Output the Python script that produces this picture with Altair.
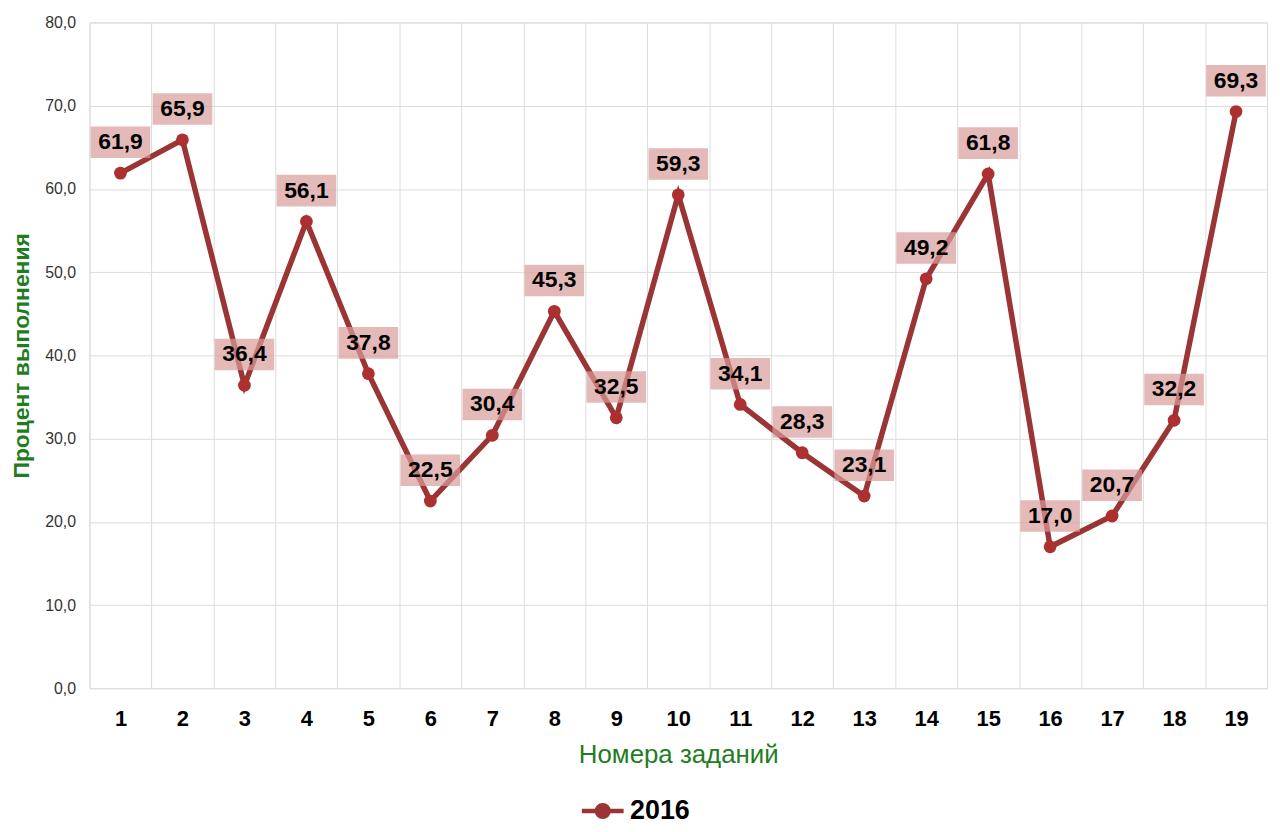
import altair as alt
import pandas as pd

tasks = list(range(1, 20))
values = [61.9, 65.9, 36.4, 56.1, 37.8, 22.5, 30.4, 45.3, 32.5, 59.3,
          34.1, 28.3, 23.1, 49.2, 61.8, 17.0, 20.7, 32.2, 69.3]
series = ["2016"] * len(tasks)

df = pd.DataFrame({"task": tasks, "value": values, "series": series})

LINE = "#9b3434"
POINT = "#ad2f2f"
GREEN = "#1f7d1f"
FONT = "Liberation Sans"

x = alt.X(
    "task:O",
    title="Номера заданий",
    scale=alt.Scale(type="band", paddingInner=0, paddingOuter=0),
    axis=alt.Axis(
        tickBand="extent", grid=True, gridColor="#dcdcdc", ticks=False, domain=False,
        labelAngle=0, labelFontSize=22, labelFontWeight="bold", labelColor="#000000",
        labelFont=FONT, labelPadding=20,
        titleFont=FONT, titleFontSize=26, titleFontWeight="normal", titleColor=GREEN,
        titlePadding=13,
    ),
)
y = alt.Y(
    "value:Q",
    title="Процент выполнения",
    scale=alt.Scale(domain=[0, 80], nice=False),
    axis=alt.Axis(
        values=[0, 10, 20, 30, 40, 50, 60, 70, 80],
        labelExpr="replace(format(datum.value, '.1f'), '.', ',')",
        grid=True, gridColor="#dcdcdc", ticks=False, domain=False,
        labelFontSize=16, labelColor="#333333", labelFont=FONT, labelPadding=14,
        titleFont=FONT, titleFontSize=23, titleFontWeight="bold", titleColor=GREEN,
        titlePadding=11,
    ),
)

color = alt.Color(
    "series:N",
    scale=alt.Scale(domain=["2016"], range=[LINE]),
    legend=alt.Legend(
        orient="none", legendX=493, legendY=770, title=None,
        symbolType="M-1,0H1M0.28,0A0.28,0.28,0,1,1,-0.28,0A0.28,0.28,0,1,1,0.28,0",
        symbolSize=1764, symbolStrokeWidth=4.5, symbolFillColor=POINT,
        symbolStrokeColor=LINE, labelFontSize=27, labelFontWeight="bold",
        labelFont=FONT, labelColor="#000000", labelOffset=4,
    ),
)

base = alt.Chart(df)

line = base.mark_line(strokeWidth=5.5, color=LINE).encode(x=x, y=y, color=color)
pts = base.mark_point(filled=True, size=165, opacity=1, shape="circle").encode(
    x=x, y=y, color=alt.value(POINT)
)
boxes = base.mark_point(
    shape="M-1,-0.53H1V0.53H-1Z", filled=True, size=3600, fill="#d99c9b",
    opacity=0.7, yOffset=-31, strokeWidth=0,
).encode(x=x, y=y)
labels = base.transform_calculate(
    lbl="replace(format(datum.value, '.1f'), '.', ',')"
).mark_text(
    dy=-31, fontSize=23, fontWeight="bold", font=FONT, color="#000000",
    baseline="middle", align="center",
).encode(x=x, y=y, text="lbl:N")

chart = (
    alt.layer(line, pts, boxes, labels)
    .properties(
        width=1185, height=670,
        autosize=alt.AutoSizeParams(type="none"),
        padding={"left": 82, "top": 12, "right": 7, "bottom": 134},
    )
    .configure_view(stroke="#dcdcdc")
    .configure(background="white")
)

chart.save("out.html", embed_options={"renderer": "svg", "actions": False})
